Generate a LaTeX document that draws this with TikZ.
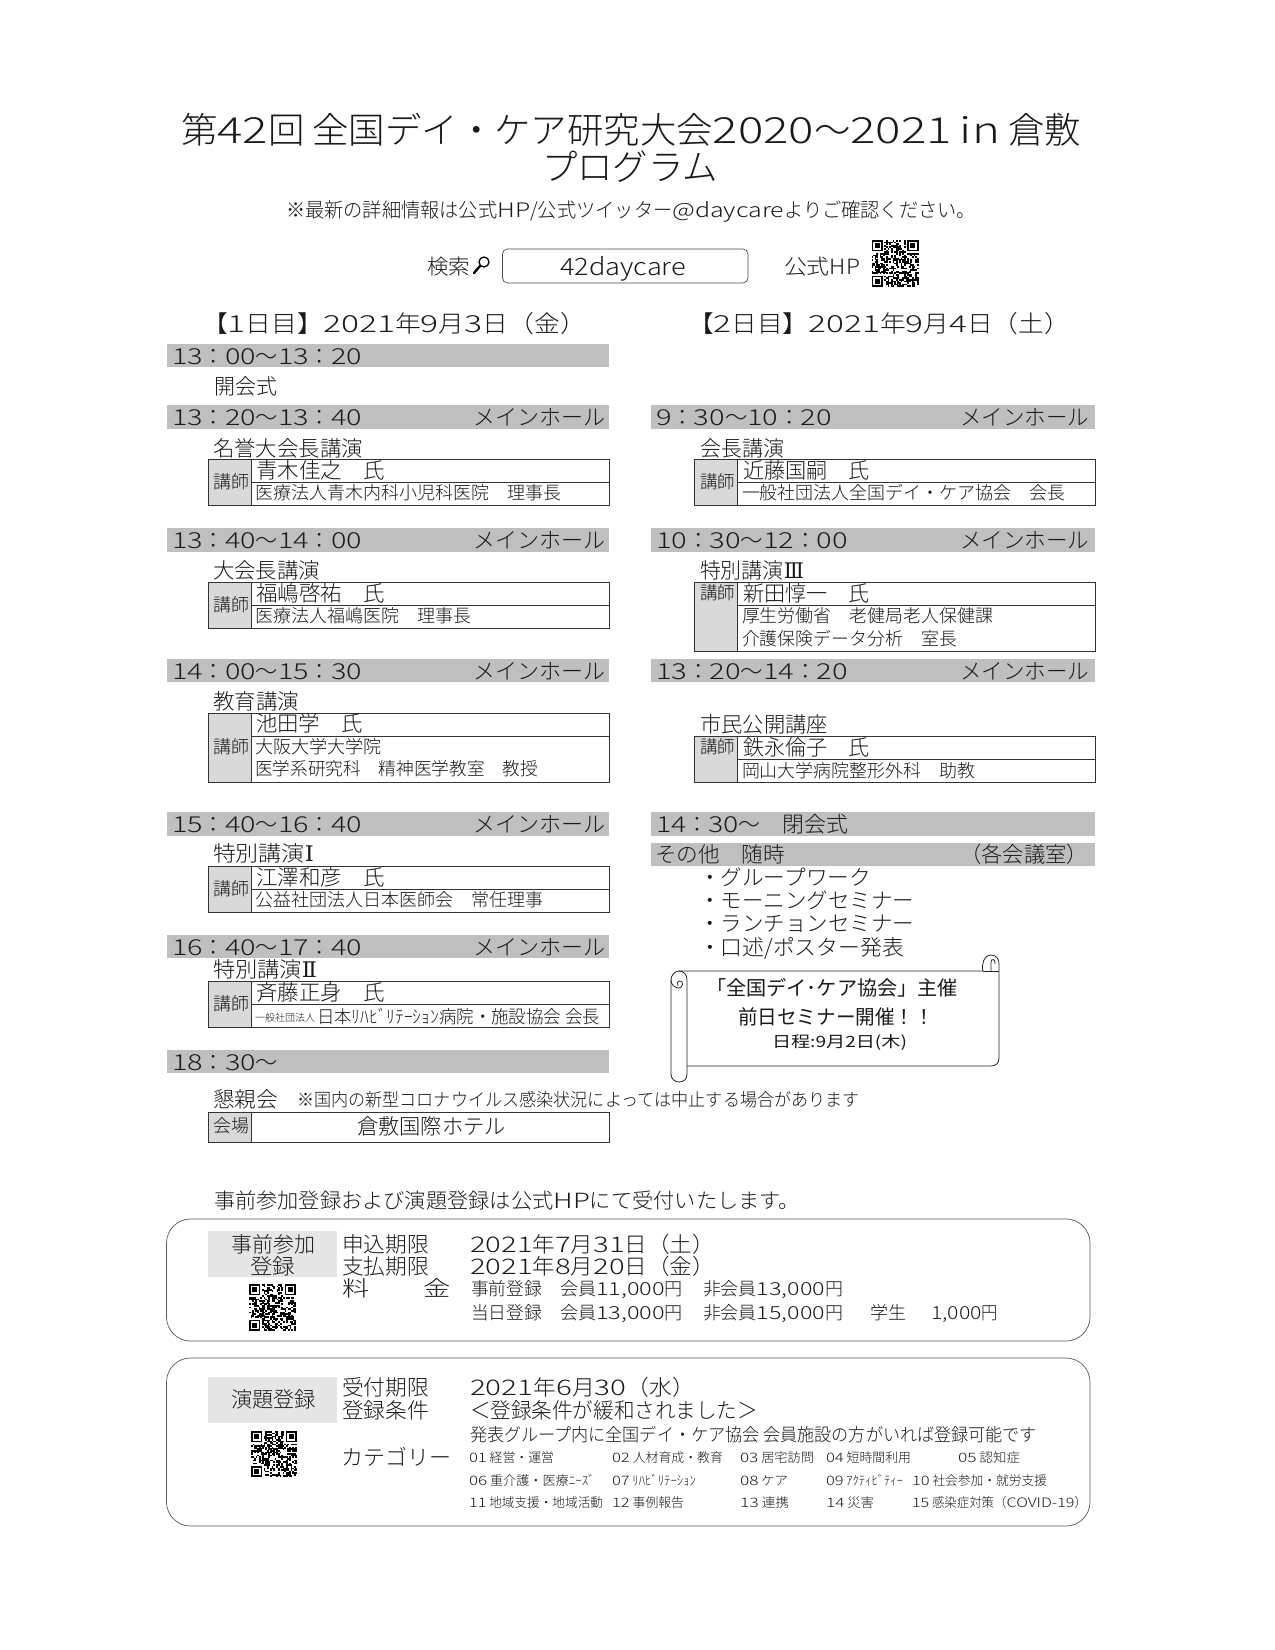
\documentclass[tikz,border=0pt]{standalone}
\usepackage{fontspec}
\newfontfamily\jp{Noto Sans CJK JP Light}
\newfontfamily\jpb{Noto Sans CJK JP}
\newfontfamily\srf{DejaVu Serif}
\definecolor{barc}{HTML}{BFBFBF}
\definecolor{headc}{HTML}{D9D9D9}
\definecolor{regc}{HTML}{E6E6E6}
\definecolor{inkc}{HTML}{1A1A1A}
\definecolor{linec}{HTML}{333333}
\newsavebox\tbox
\newcount\tcnt
\newcommand\DD[1]{\scalebox{1.3}[1]{#1}}
% x-left, y-centre, size, x-right, text
\newcommand\TX[5]{%
  \global\advance\tcnt by 1
  \pgfmathsetmacro\yb{#2+0.37*#3}%
  \node[txt] (t\the\tcnt) at (#1,\yb) {%
    \sbox\tbox{\fontsize{#3}{#3}\selectfont\jp #5}%
    \pgfmathsetmacro\hs{(#4-(#1))/\the\wd\tbox}%
    \scalebox{\hs}[1]{\usebox\tbox}};}
% time range: x y xright h1 m1 h2 m2
\newcommand\TM[7]{\TX{#1}{#2}{22}{#3}{\DD{#4}：\DD{#5}～\DD{#6}：\DD{#7}}}
\newcommand\BAR[4]{\fill[barc] (#1,#3) rectangle (#2,#4);}
% x0 xcol x1 ytop ybot
\newcommand\TBL[5]{\fill[headc] (#1,#4) rectangle (#2,#5);
  \draw[tline] (#1,#4) rectangle (#3,#5); \draw[tline] (#2,#4) -- (#2,#5);}
\newcommand\QR[4]{%
  \pgfmathsetseed{#4}%
  \pgfmathsetmacro\ms{#3/29}%
  \foreach \i in {0,...,28}{\foreach \j in {0,...,28}{%
    \pgfmathtruncatemacro\inf{(\i<8 && \j<8) || (\i>20 && \j<8) || (\i<8 && \j>20) ? 1 : 0}%
    \ifnum\inf=0
      \pgfmathparse{rnd<0.5 ? 1 : 0}%
      \ifnum\pgfmathresult=1
        \fill[black] (#1+\i*\ms,#2+\j*\ms) rectangle ++(\ms+0.1,\ms+0.1);
      \fi
    \fi}}%
  \foreach \a/\b in {0/0,22/0,0/22}{%
    \draw[black,line width=\ms pt] (#1+\a*\ms+0.5*\ms,#2+\b*\ms+0.5*\ms) rectangle ++(6*\ms,6*\ms);
    \fill[black] (#1+\a*\ms+2*\ms,#2+\b*\ms+2*\ms) rectangle ++(3*\ms,3*\ms);}}
\tikzset{
  txt/.style={anchor=base west,inner sep=0pt,outer sep=0pt,text=inkc},
  tline/.style={draw=linec,line width=0.9pt},
  roundbox/.style={draw=black!65,line width=0.7pt,rounded corners=24pt},
  scrollline/.style={draw=black!85,line width=0.8pt}
}
\begin{document}
\begin{tikzpicture}[x=1pt,y=-1pt]
\useasboundingbox (0,0) rectangle (1275,1650);
\fill[white] (0,0) rectangle (1275,1650);
% header
\TX{181}{130}{36}{1081}{第\DD{42}回 全国デイ・ケア研究大会\DD{2020}～\DD{2021} \DD{in} 倉敷}
\TX{542}{167}{36}{718}{プログラム}
\TX{286}{210}{20}{976}{※最新の詳細情報は公式\DD{HP}/公式ツイッター\DD{@daycare}よりご確認ください。}
\TX{427}{267}{21}{470}{検索}
\draw[line width=1.3pt,black] (484,262) circle (5pt);
\draw[line width=2.4pt,black,line cap=round] (480,266) -- (474,273);
\draw[line width=0.7pt,draw=black!70,rounded corners=5pt] (502.5,249) rectangle (748,283);
\TX{560}{267}{24}{686}{42daycare}
\TX{784}{267}{21}{860}{公式HP}
\QR{871.5}{240}{47}{11}
\TX{202}{324}{23.5}{586}{【\DD{1}日目】\DD{2021}年\DD{9}月\DD{3}日（金）}
\TX{688}{324}{23.5}{1070}{【\DD{2}日目】\DD{2021}年\DD{9}月\DD{4}日（土）}
% left column
\BAR{167}{609}{344}{367}
\TM{172}{356}{362}{13}{00}{13}{20}
\TX{214}{387}{21.5}{277}{開会式}

\BAR{167}{609}{405}{429}
\TM{172}{417}{362}{13}{20}{13}{40}
\TX{473}{417}{22}{605}{メインホール}
\TX{213}{449}{21.5}{363}{名誉大会長講演}
\TBL{208}{251}{609}{459}{505}
\draw[tline] (251,482) -- (609,482);
\TX{213}{482}{18}{249}{講師}
\TX{256}{471}{21.5}{385}{青木佳之　氏}
\TX{255}{493}{18}{561}{医療法人青木内科小児科医院　理事長}

\BAR{167}{609}{528}{552}
\TM{172}{540}{362}{13}{40}{14}{00}
\TX{473}{540}{22}{605}{メインホール}
\TX{213}{571}{21.5}{320}{大会長講演}
\TBL{208}{251}{609}{582}{628}
\draw[tline] (251,605) -- (609,605);
\TX{213}{605}{18}{249}{講師}
\TX{256}{594}{21.5}{385}{福嶋啓祐　氏}
\TX{255}{616}{18}{471}{医療法人福嶋医院　理事長}

\BAR{167}{609}{659}{682}
\TM{172}{671}{362}{14}{00}{15}{30}
\TX{473}{671}{22}{605}{メインホール}
\TX{213}{702}{21.5}{299}{教育講演}
\TBL{208}{251}{609}{713}{782}
\draw[tline] (251,736) -- (609,736);
\TX{213}{747}{18}{249}{講師}
\TX{256}{724}{21.5}{363}{池田学　氏}
\TX{255}{747}{18}{382}{大阪大学大学院}
\TX{255}{769}{18}{538}{医学系研究科　精神医学教室　教授}

\BAR{167}{609}{812}{836}
\TM{172}{824}{362}{15}{40}{16}{40}
\TX{473}{824}{22}{605}{メインホール}
\TX{213}{854}{21.5}{314}{特別講演{\srf Ⅰ}}
\TBL{208}{251}{609}{866}{912}
\draw[tline] (251,889) -- (609,889);
\TX{213}{889}{18}{249}{講師}
\TX{256}{878}{21.5}{385}{江澤和彦　氏}
\TX{255}{900}{18}{543}{公益社団法人日本医師会　常任理事}

\BAR{167}{609}{935}{958}
\TM{172}{947}{362}{16}{40}{17}{40}
\TX{473}{947}{22}{605}{メインホール}
\TX{213}{970}{21.5}{317}{特別講演{\srf Ⅱ}}
\TBL{208}{251}{609}{981}{1027}
\draw[tline] (251,1004) -- (609,1004);
\TX{213}{1004}{18}{249}{講師}
\TX{256}{993}{21.5}{385}{斉藤正身　氏}
\TX{255}{1018}{10}{315}{一般社団法人}
\TX{317}{1017}{18}{600}{日本ﾘﾊﾋﾞﾘﾃｰｼｮﾝ病院・施設協会 会長}

\BAR{167}{609}{1050}{1073}
\TX{172}{1062}{22}{278}{\DD{18}：\DD{30}～}
\TX{213}{1100}{21.5}{278}{懇親会}
\TX{297}{1100}{18}{860}{※国内の新型コロナウイルス感染状況によっては中止する場合があります}
\TBL{208}{251}{609}{1112}{1142}
\TX{213}{1126}{18}{249}{会場}
\TX{357}{1127}{21.5}{506}{倉敷国際ホテル}
% right column
\BAR{651}{1095}{405}{429}
\TX{656}{417}{22}{832}{\DD{9}：\DD{30}～\DD{10}：\DD{20}}
\TX{960}{417}{22}{1089}{メインホール}
\TX{700}{449}{21.5}{784}{会長講演}
\TBL{694}{737}{1095}{459}{505}
\draw[tline] (737,482) -- (1095,482);
\TX{700}{482}{18}{735}{講師}
\TX{743}{471}{21.5}{870}{近藤国嗣　氏}
\TX{742}{493}{18}{1065}{一般社団法人全国デイ・ケア協会　会長}

\BAR{651}{1095}{528}{552}
\TM{656}{540}{848}{10}{30}{12}{00}
\TX{960}{540}{22}{1089}{メインホール}
\TX{700}{571}{21.5}{804}{特別講演{\srf Ⅲ}}
\TBL{694}{737}{1095}{582}{651}
\draw[tline] (737,605) -- (1095,605);
\TX{700}{593}{18}{735}{講師}
\TX{743}{594}{21.5}{870}{新田惇一　氏}
\TX{742}{616}{18}{993}{厚生労働省　老健局老人保健課}
\TX{742}{639}{18}{957}{介護保険データ分析　室長}

\BAR{651}{1095}{659}{682}
\TM{656}{671}{848}{13}{20}{14}{20}
\TX{960}{671}{22}{1089}{メインホール}
\TX{700}{725}{21.5}{828}{市民公開講座}
\TBL{694}{737}{1095}{736}{782}
\draw[tline] (737,759) -- (1095,759);
\TX{700}{747}{18}{735}{講師}
\TX{743}{748}{21.5}{870}{鉄永倫子　氏}
\TX{742}{771}{18}{975}{岡山大学病院整形外科　助教}

\BAR{651}{1095}{812}{836}
\TX{656}{824}{22}{848}{\DD{14}：\DD{30}～　閉会式}
\BAR{651}{1095}{843}{866}
\TX{655}{855}{21.5}{785}{その他　随時}
\TX{960}{855}{21.5}{1088}{（各会議室）}
\TX{699}{878}{21.5}{871}{・グループワーク}
\TX{699}{901}{21.5}{914}{・モーニングセミナー}
\TX{699}{924}{21.5}{914}{・ランチョンセミナー}
\TX{699}{948}{21.5}{904}{・口述/ポスター発表}
% scroll
\draw[scrollline] (679,971) -- (983,971) .. controls (981,965) and (984,955) .. (991,955)
  .. controls (996,955) and (999,959) .. (999,963) -- (999,1058)
  .. controls (999,1063) and (996,1066) .. (991,1066) -- (687,1066);
\draw[scrollline] (991,971) -- (991,962) .. controls (991,958) and (996,959) .. (995,964);
\draw[scrollline] (983,971) -- (999,971);
\draw[scrollline] (679,971) .. controls (675,971) and (671,975) .. (671,980) -- (671,1074)
  .. controls (671,1079) and (675,1082) .. (679,1082)
  .. controls (684,1082) and (687,1079) .. (687,1074) -- (687,980)
  .. controls (687,975) and (684,971) .. (679,971);
\draw[scrollline] (671,980) .. controls (671,985) and (675,988) .. (679,988)
  .. controls (683,988) and (684,981) .. (680,981) .. controls (677,981) and (677,984) .. (678,986);
\TX{706}{988}{20}{958}{\jpb 「全国デイ･ケア協会」主催}
\TX{738}{1017}{20}{934}{\jpb 前日セミナー開催！！}
\TX{772}{1042}{15.5}{907}{\jpb 日程:9月2日(木)}
% registration
\TX{214}{1201}{21}{800}{事前参加登録および演題登録は公式\DD{HP}にて受付いたします。}
\draw[roundbox] (166.5,1219) rectangle (1090,1341);
\fill[regc] (208,1231) rectangle (337,1277);
\TX{231}{1245}{21.5}{315}{事前参加}
\TX{250}{1267}{21.5}{295}{登録}
\TX{342}{1245}{21.5}{429}{申込期限}
\TX{342}{1267}{21.5}{429}{支払期限}
\TX{470}{1245}{21.5}{715}{\DD{2021}年\DD{7}月\DD{31}日（土）}
\TX{470}{1267}{21.5}{715}{\DD{2021}年\DD{8}月\DD{20}日（金）}
\TX{342}{1289}{21.5}{451}{料　　金}
\TX{471}{1289}{18}{542}{事前登録}
\TX{560}{1289}{18}{683}{会員\DD{11,000}円}
\TX{703}{1289}{18}{843}{非会員\DD{13,000}円}
\TX{471}{1313}{18}{542}{当日登録}
\TX{560}{1313}{18}{683}{会員\DD{13,000}円}
\TX{703}{1313}{18}{843}{非会員\DD{15,000}円}
\TX{870}{1313}{18}{906}{学生}
\TX{931}{1313}{18}{998}{\DD{1,000}円}
\QR{249}{1284}{47}{23}

\draw[roundbox] (166.5,1358) rectangle (1090,1526);
\fill[regc] (208,1377) rectangle (337,1423);
\TX{231}{1400}{21.5}{316}{演題登録}
\TX{342}{1388}{21.5}{429}{受付期限}
\TX{342}{1411}{21.5}{429}{登録条件}
\TX{470}{1388}{21.5}{695}{\DD{2021}年\DD{6}月\DD{30}（水）}
\TX{470}{1411}{21.5}{758}{＜登録条件が緩和されました＞}
\TX{470}{1435}{18}{1037}{発表グループ内に全国デイ・ケア協会 会員施設の方がいれば登録可能です}
\TX{341}{1458}{21.5}{451}{カテゴリー}
\QR{251}{1431}{46}{37}
% categories
\TX{469}{1458}{13}{554}{\DD{01} 経営・運営}
\TX{612}{1458}{13}{723}{\DD{02} 人材育成・教育}
\TX{740}{1458}{13}{814}{\DD{03} 居宅訪問}
\TX{826}{1458}{13}{911}{\DD{04} 短時間利用}
\TX{958}{1458}{13}{1020}{\DD{05} 認知症}
\TX{469}{1481}{13}{595}{\DD{06} 重介護・医療ﾆｰｽﾞ}
\TX{612}{1481}{13}{696}{\DD{07} ﾘﾊﾋﾞﾘﾃｰｼｮﾝ}
\TX{740}{1481}{13}{788}{\DD{08} ケア}
\TX{826}{1481}{13}{903}{\DD{09} ｱｸﾃｨﾋﾞﾃｨｰ}
\TX{912}{1481}{13}{1047}{\DD{10} 社会参加・就労支援}
\TX{469}{1503}{13}{603}{\DD{11} 地域支援・地域活動}
\TX{612}{1503}{13}{684}{\DD{12} 事例報告}
\TX{740}{1503}{13}{789}{\DD{13} 連携}
\TX{826}{1503}{13}{874}{\DD{14} 災害}
\TX{912}{1503}{13}{1087}{\DD{15} 感染症対策（\DD{COVID-19}）}
\end{tikzpicture}
\end{document}
